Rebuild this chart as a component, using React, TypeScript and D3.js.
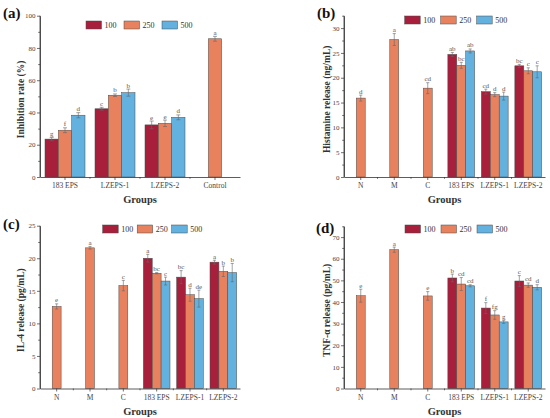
import { useRef, useEffect } from 'react';
import * as d3 from 'd3';

const seriesNames = ['100', '250', '500'];
const seriesColors = ['#a81f3c', '#e8825e', '#62b1df'];

// (a) inhibition rate
const groupsA = ['183 EPS', 'LZEPS-1', 'LZEPS-2', 'Control'];
const inhib100 = [23.5, 42.3, 32.3, null];
const inhib250 = [29.0, 50.7, 33.3, 85.7];
const inhib500 = [38.3, 52.3, 37.0, null];
const inhibErr100 = [1.0, 0.9, 2.4, null];
const inhibErr250 = [1.5, 0.8, 2.0, 1.5];
const inhibErr500 = [1.6, 2.2, 1.5, null];
const inhibSig100 = ['g', 'c', 'e', null];
const inhibSig250 = ['f', 'b', 'e', 'a'];
const inhibSig500 = ['d', 'b', 'd', null];

// shared groups for (b)-(d)
const groupsB = ['N', 'M', 'C', '183 EPS', 'LZEPS-1', 'LZEPS-2'];

// (b) histamine
const hist100 = [null, null, null, 24.7, 17.2, 22.4];
const hist250 = [15.9, 27.7, 17.9, 22.5, 16.6, 21.4];
const hist500 = [null, null, null, 25.4, 16.3, 21.2];
const histErr100 = [null, null, null, 0.4, 0.5, 0.3];
const histErr250 = [0.6, 1.2, 1.1, 0.6, 0.4, 0.6];
const histErr500 = [null, null, null, 0.4, 0.8, 1.2];
const histSig100 = [null, null, null, 'ab', 'cd', 'bc'];
const histSig250 = ['d', 'a', 'cd', 'bc', 'd', 'c'];
const histSig500 = [null, null, null, 'ab', 'd', 'c'];

// (c) IL-4
const il100 = [null, null, null, 20.0, 17.1, 19.4];
const il250 = [12.6, 21.6, 15.8, 17.7, 14.4, 18.0];
const il500 = [null, null, null, 16.5, 13.8, 17.8];
const ilErr100 = [null, null, null, 0.6, 1.0, 0.3];
const ilErr250 = [0.4, 0.2, 0.8, 0.1, 1.0, 0.8];
const ilErr500 = [null, null, null, 0.6, 1.3, 1.4];
const ilSig100 = [null, null, null, 'a', 'bc', 'a'];
const ilSig250 = ['e', 'a', 'c', 'bc', 'd', 'b'];
const ilSig500 = [null, null, null, 'c', 'de', 'b'];

// (d) TNF-a
const tnf100 = [null, null, null, 51.1, 37.2, 49.7];
const tnf250 = [42.9, 64.2, 42.8, 48.3, 34.0, 47.8];
const tnf500 = [null, null, null, 47.5, 30.8, 46.8];
const tnfErr100 = [null, null, null, 1.8, 2.5, 2.5];
const tnfErr250 = [3.0, 1.2, 2.0, 3.0, 2.0, 1.0];
const tnfErr500 = [null, null, null, 0.5, 0.7, 1.2];
const tnfSig100 = [null, null, null, 'b', 'f', 'c'];
const tnfSig250 = ['e', 'a', 'e', 'cd', 'fg', 'cd'];
const tnfSig500 = [null, null, null, 'cd', 'g', 'd'];

const FONT = "'Liberation Serif', 'Times New Roman', serif";

type Num = number | null;
type Str = string | null;

interface Panel {
  tag: string;
  groups: string[];
  values: Num[][];
  errors: Num[][];
  sigs: Str[][];
  yMax: number;
  major: number;
  yTitle: string;
  left: number;
  right: number;
  top: number;
  bottom: number;
  tagX: number;
  tagY: number;
  titleX: number;
  legendX: number;
  legendY: number;
  legendGap: number;
}

const panels: Panel[] = [
  {
    tag: '(a)', groups: groupsA,
    values: [inhib100, inhib250, inhib500],
    errors: [inhibErr100, inhibErr250, inhibErr500],
    sigs: [inhibSig100, inhibSig250, inhibSig500],
    yMax: 100, major: 20, yTitle: 'Inhibition rate (%)',
    left: 40, right: 240, top: 15.7, bottom: 177,
    tagX: 3, tagY: 18, titleX: 20, legendX: 86, legendY: 25, legendGap: 38,
  },
  {
    tag: '(b)', groups: groupsB,
    values: [hist100, hist250, hist500],
    errors: [histErr100, histErr250, histErr500],
    sigs: [histSig100, histSig250, histSig500],
    yMax: 32.5, major: 5, yTitle: 'Histamine release (ng/mL)',
    left: 344, right: 545, top: 15.7, bottom: 177,
    tagX: 317, tagY: 18, titleX: 326.5, legendX: 404.7, legendY: 20, legendGap: 36,
  },
  {
    tag: '(c)', groups: groupsB,
    values: [il100, il250, il500],
    errors: [ilErr100, ilErr250, ilErr500],
    sigs: [ilSig100, ilSig250, ilSig500],
    yMax: 25, major: 5, yTitle: 'IL-4 release (pg/mL)',
    left: 40, right: 240, top: 225.7, bottom: 388.5,
    tagX: 3, tagY: 229, titleX: 20, legendX: 102.7, legendY: 229, legendGap: 34.5,
  },
  {
    tag: '(d)', groups: groupsB,
    values: [tnf100, tnf250, tnf500],
    errors: [tnfErr100, tnfErr250, tnfErr500],
    sigs: [tnfSig100, tnfSig250, tnfSig500],
    yMax: 75, major: 10, yTitle: 'TNF-α release (pg/mL)',
    left: 344, right: 545, top: 226.3, bottom: 388.5,
    tagX: 316, tagY: 233, titleX: 326.5, legendX: 405, legendY: 229, legendGap: 36,
  },
];

const drawPanel = (svg: d3.Selection<SVGSVGElement, unknown, null, undefined>, p: Panel) => {
  const g = svg.append('g');

  const x = d3.scaleBand<string>()
    .domain(p.groups)
    .range([p.left, p.right])
    .paddingInner(0.2)
    .paddingOuter(0.1);
  const step = x.step();
  const barW = (step * 0.8) / 3;

  const y = d3.scaleLinear()
    .domain([0, p.yMax])
    .range([p.bottom, p.top]);

  // bars
  p.values.forEach((vals, s) => {
    vals.forEach((v, i) => {
      if (v == null) return;
      const cx = x(p.groups[i])! + x.bandwidth() / 2;
      const bx = cx + (s - 1) * barW - barW / 2;
      g.append('rect')
        .attr('x', bx)
        .attr('y', y(v))
        .attr('width', barW)
        .attr('height', y(0) - y(v))
        .attr('fill', seriesColors[s])
        .attr('stroke', '#4a4a4a')
        .attr('stroke-width', 0.5);

      const e = p.errors[s][i] ?? 0;
      const bc = bx + barW / 2;
      const cap = Math.min(4, barW * 0.35);
      g.append('line')
        .attr('x1', bc).attr('x2', bc)
        .attr('y1', y(v - e)).attr('y2', y(v + e))
        .attr('stroke', '#666').attr('stroke-width', 0.6);
      [v - e, v + e].forEach(t => {
        g.append('line')
          .attr('x1', bc - cap / 2).attr('x2', bc + cap / 2)
          .attr('y1', y(t)).attr('y2', y(t))
          .attr('stroke', '#666').attr('stroke-width', 0.6);
      });

      const sig = p.sigs[s][i];
      if (sig) {
        g.append('text')
          .attr('x', bc)
          .attr('y', y(v + e) - 1.5)
          .attr('text-anchor', 'middle')
          .attr('font-family', FONT)
          .attr('font-size', 7)
          .attr('fill', '#555')
          .text(sig);
      }
    });
  });

  // y axis
  const yAxis = g.append('g')
    .attr('transform', `translate(${p.left},0)`)
    .call(d3.axisLeft(y).tickValues(d3.range(0, p.yMax + 0.001, p.major)).tickSize(3).tickSizeOuter(0).tickPadding(1.5));
  yAxis.append('g')
    .call(d3.axisLeft(y).tickValues(d3.range(p.major / 2, p.yMax + 0.001, p.major)).tickSize(1.8).tickSizeOuter(0).tickFormat(() => ''));
  yAxis.selectAll('.domain').attr('stroke', '#333').attr('stroke-width', 0.8);
  yAxis.selectAll('line').attr('stroke', '#333').attr('stroke-width', 0.7);
  yAxis.selectAll('text')
    .attr('font-family', FONT)
    .attr('font-size', 7)
    .attr('fill', '#444');
  yAxis.select('.domain').attr('d', `M0,${y(0)}V${p.top}`);

  // x axis
  const xAxis = g.append('g')
    .attr('transform', `translate(0,${p.bottom})`)
    .call(d3.axisBottom(x).tickSize(3).tickSizeOuter(0).tickPadding(3));
  const bounds = p.groups.slice(1).map(c => x(c)! - (x.step() - x.bandwidth()) / 2);
  bounds.forEach(b => {
    xAxis.append('line')
      .attr('x1', b).attr('x2', b)
      .attr('y1', 0).attr('y2', 1.8);
  });
  xAxis.selectAll('.domain').attr('stroke', '#333').attr('stroke-width', 0.8);
  xAxis.selectAll('line').attr('stroke', '#333').attr('stroke-width', 0.7);
  xAxis.selectAll('text')
    .attr('font-family', FONT)
    .attr('font-size', 7.5)
    .attr('fill', '#444');

  // titles
  g.append('text')
    .attr('x', (p.left + p.right) / 2)
    .attr('y', p.bottom + 26)
    .attr('text-anchor', 'middle')
    .attr('font-family', FONT)
    .attr('font-weight', 'bold')
    .attr('font-size', 10.5)
    .attr('fill', '#333')
    .text('Groups');

  g.append('text')
    .attr('transform', `translate(${p.titleX + 3.5},${(p.top + p.bottom) / 2 + 3}) rotate(-90)`)
    .attr('text-anchor', 'middle')
    .attr('font-family', FONT)
    .attr('font-weight', 'bold')
    .attr('font-size', 9.5)
    .attr('fill', '#333')
    .text(p.yTitle);

  g.append('text')
    .attr('x', p.tagX)
    .attr('y', p.tagY)
    .attr('font-family', FONT)
    .attr('font-weight', 'bold')
    .attr('font-size', 15)
    .attr('fill', '#111')
    .text(p.tag);

  // legend
  seriesNames.forEach((name, s) => {
    const lx = p.legendX + s * p.legendGap;
    g.append('rect')
      .attr('x', lx)
      .attr('y', p.legendY - 4)
      .attr('width', 15.5)
      .attr('height', 8)
      .attr('fill', seriesColors[s])
      .attr('stroke', '#4a4a4a')
      .attr('stroke-width', 0.5);
    g.append('text')
      .attr('x', lx + 18.5)
      .attr('y', p.legendY + 2.8)
      .attr('font-family', FONT)
      .attr('font-size', 8)
      .attr('fill', '#333')
      .text(name);
  });
};

const App = () => {
  const svgRef = useRef<SVGSVGElement>(null);

  useEffect(() => {
    const svg = d3.select(svgRef.current!)
      .attr('width', 550)
      .attr('height', 418);
    svg.selectAll('*').remove();
    svg.append('rect').attr('width', 550).attr('height', 418).attr('fill', '#fff');
    panels.forEach(p => drawPanel(svg, p));
  }, []);

  return (
    <div style={{ position: 'absolute', left: 0, top: 0 }}>
      <svg ref={svgRef} style={{ display: 'block' }}></svg>
    </div>
  );
};

export default App;
